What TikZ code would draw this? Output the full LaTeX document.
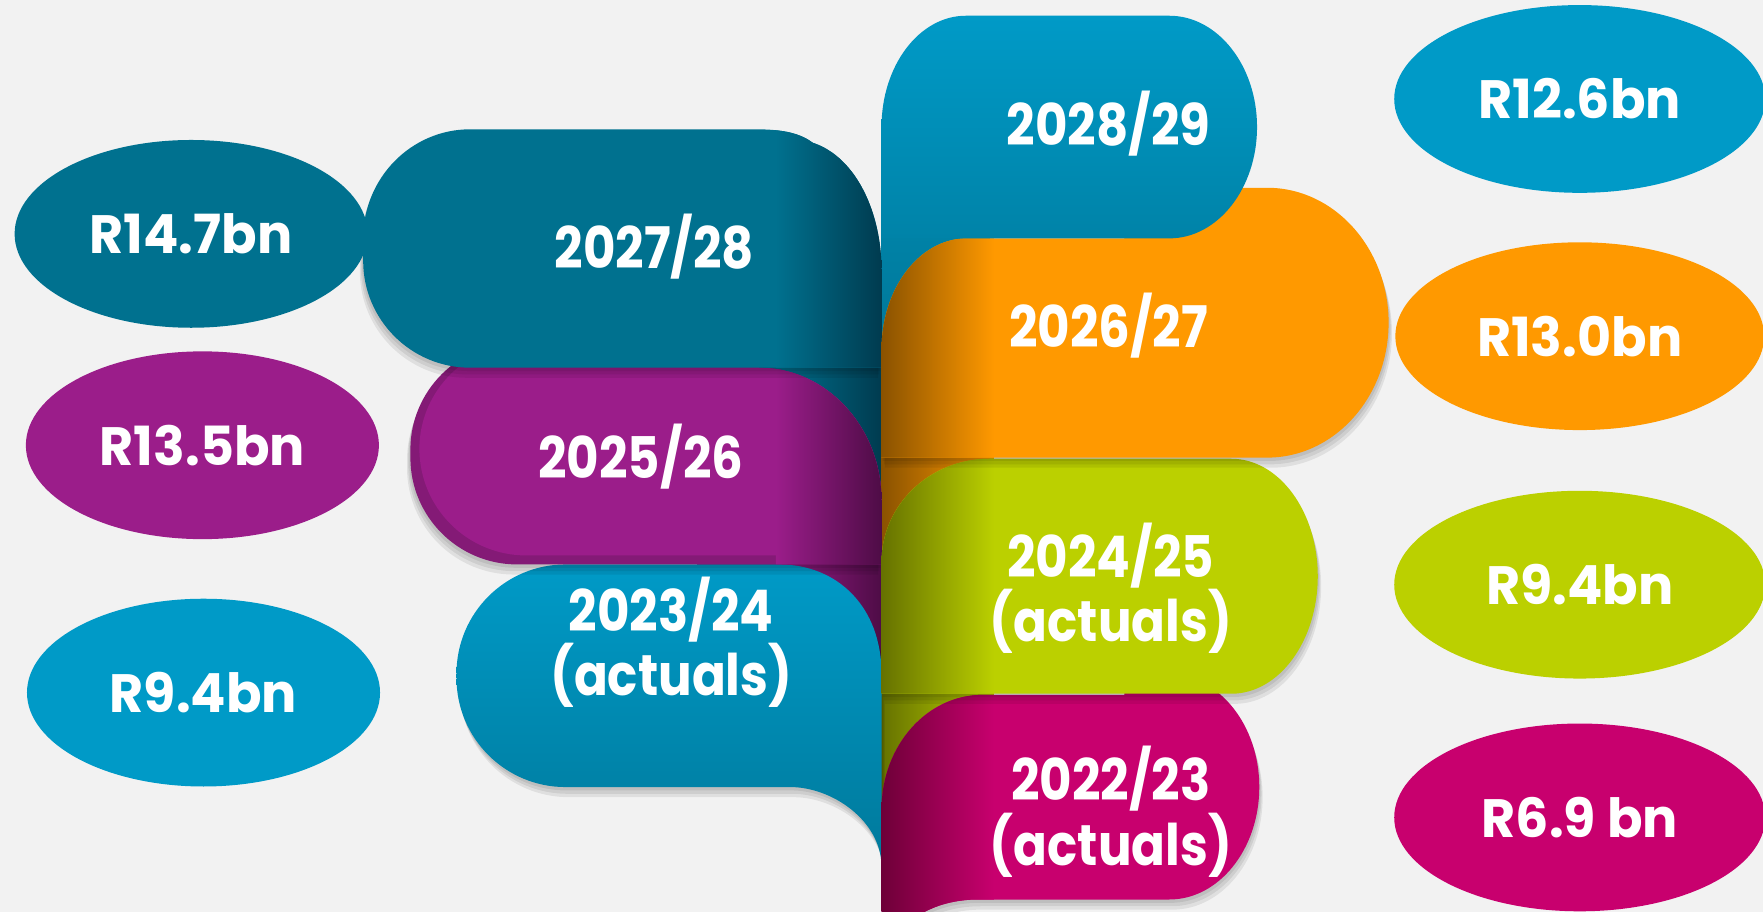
\documentclass[tikz,border=0pt]{standalone}
\usepackage{fontspec}
\setmainfont{Poppins}[FakeStretch=0.87]
\newfontfamily\amountfont{Poppins}[FakeStretch=0.97]
\usetikzlibrary{shapes.geometric}
\definecolor{bg}{HTML}{F2F2F2}
\definecolor{tealbase}{HTML}{00718F}
\definecolor{tealdark}{HTML}{003B4F}
\definecolor{plum}{HTML}{9B1D8A}
\definecolor{plumrim}{HTML}{841A76}
\definecolor{plumdark}{HTML}{4E0C46}
\definecolor{skyblue}{HTML}{009AC7}
\definecolor{skymid}{HTML}{0083A8}
\definecolor{skydeep}{HTML}{007393}
\definecolor{amber}{HTML}{FF9900}
\definecolor{amberdark}{HTML}{8A5200}
\definecolor{leaf}{HTML}{BBD000}
\definecolor{leafdark}{HTML}{667200}
\definecolor{berry}{HTML}{C8006E}
\definecolor{berrydark}{HTML}{6E0038}
\newcommand\pathTealBody{(784,327) -- (418,327) .. controls (365.6,327) and (323,284.4) .. (323,232) -- (323,212) .. controls (323,158.5) and (365.6,115) .. (418,115) -- (672,115) .. controls (698,115) and (712,119) .. (723,127) .. controls (762,140) and (784,190) .. (784,240) -- cycle}
\newcommand\pathPlumBody{(675,327) .. controls (735,327) and (784,380) .. (784,445) -- (784,502) -- (460,502) .. controls (407.6,502) and (365,459.6) .. (365,407) -- (365,400) .. controls (365,347.6) and (407.6,305) .. (460,305) -- (675,305) -- cycle}
\newcommand\pathPlumFace{(675,327) .. controls (735,327) and (784,380) .. (784,445) -- (784,494) -- (468,494) .. controls (415.6,494) and (373,451.6) .. (373,399) .. controls (373,347.6) and (415.6,305) .. (468,305) -- (675,305) -- cycle}
\newcommand\pathSkyLow{(784,599) .. controls (784,540) and (745,502) .. (693,502) -- (503,502) .. controls (449.4,502) and (406,545.4) .. (406,599) -- (406,603) .. controls (406,656.6) and (449.4,700) .. (503,700) -- (703,700) .. controls (740,700) and (784,730) .. (784,771) -- (784,820) -- cycle}
\newcommand\pathSkyHigh{(784,212) -- (784,113) .. controls (784,58.4) and (817.6,14) .. (859,14) -- (1040,14) .. controls (1083,14) and (1118,58.4) .. (1118,113) .. controls (1118,167.6) and (1083,212) .. (1040,212) -- cycle}
\newcommand\pathAmber{(784,407) -- (784,311) .. controls (784,256.4) and (818,212) .. (860,212) -- (1000,212) -- (1000,167) -- (1127,167) .. controls (1186.6,167) and (1235,220.7) .. (1235,287) .. controls (1235,353.3) and (1186.6,407) .. (1127,407) -- cycle}
\newcommand\pathLeaf{(784,617) -- (784,500) .. controls (784,449) and (827,408) .. (880,408) -- (1095,408) .. controls (1137.5,408) and (1172,454.8) .. (1172,512.5) .. controls (1172,570.2) and (1137.5,617) .. (1095,617) -- cycle}
\newcommand\pathBerry{(784,830) -- (784,720) .. controls (784,663.7) and (824,618) .. (874,618) -- (1000,618) -- (1000,600) -- (1040,600) .. controls (1084,600) and (1120,644.8) .. (1120,700) .. controls (1120,755.2) and (1084,800) .. (1040,800) -- (870,800) .. controls (835,800) and (810,815) .. (800,830) -- cycle}
\begin{document}
\begin{tikzpicture}[x=1pt,y=-1pt,
	yearlabel/.style={text=white,align=center,font=\fontsize{51}{56}\selectfont\bfseries},
	amount/.style={ellipse,inner sep=0pt,minimum width=314,minimum height=167,text=white,font=\amountfont\fontsize{48}{48}\selectfont\bfseries},
	softshadow/.style={black,opacity=.075}]
	\useasboundingbox (0,0) rectangle (1568,811);
	\clip (0,0) rectangle (1568,811);
	\fill[bg] (0,0) rectangle (1568,811);
	\fill[tealbase] (620,300) rectangle (700,480);
	\shade[left color=tealbase,right color=tealdark] (690,300) rectangle (784,480);
	\fill[plum] (620,480) rectangle (700,640);
	\shade[left color=plum,right color=plumdark] (690,480) rectangle (784,640);
	\shade[top color=skymid,bottom color=skydeep] (784,200) rectangle (880,350);
	\shade[left color=amberdark,right color=amber] (784,400) rectangle (884,540);
	\shade[left color=leafdark,right color=leaf] (784,610) rectangle (884,740);
	\foreach \d in {3,6,9} \fill[softshadow,shift={(\d/3,\d)}] \pathSkyLow;
	\shade[top color=skyblue,bottom color=skydeep] \pathSkyLow;
	\foreach \d in {3,6,9} \fill[softshadow,shift={(-\d/3,\d)}] \pathPlumBody;
	\fill[plumrim] \pathPlumBody;
	\fill[plum] \pathPlumFace;
	\begin{scope}
		\clip \pathPlumBody;
		\shade[left color=plum,right color=plumdark] (690,300) rectangle (784,510);
	\end{scope}
	\foreach \d in {3,6,9} \fill[softshadow,shift={(-\d/3,\d)}] \pathTealBody;
	\fill[tealbase] \pathTealBody;
	\begin{scope}
		\clip \pathTealBody;
		\shade[left color=tealbase,right color=tealdark] (690,110) rectangle (784,330);
	\end{scope}
	\foreach \d in {3,6,9} \fill[softshadow,shift={(\d/3,\d)}] \pathBerry;
	\fill[berry] \pathBerry;
	\begin{scope}
		\clip \pathBerry;
		\shade[left color=berrydark,right color=berry] (784,590) rectangle (884,840);
	\end{scope}
	\foreach \d in {3,6,9} \fill[softshadow,shift={(\d/3,\d)}] \pathLeaf;
	\fill[leaf] \pathLeaf;
	\begin{scope}
		\clip \pathLeaf;
		\shade[left color=leafdark,right color=leaf] (784,400) rectangle (884,620);
	\end{scope}
	\foreach \d in {3,6,9} \fill[softshadow,shift={(\d/3,\d)}] \pathAmber;
	\fill[amber] \pathAmber;
	\begin{scope}
		\clip \pathAmber;
		\shade[left color=amberdark,right color=amber] (784,160) rectangle (884,420);
	\end{scope}
	\shade[top color=skyblue,bottom color=skymid] \pathSkyHigh;
	\node[yearlabel] (y2728) at (582,219) {2027/28};
	\node[yearlabel] (y2526) at (570,406) {2025/26};
	\node[yearlabel] (y2324) at (597,571) {2023/24\\(actuals)};
	\node[yearlabel] (y2829) at (986,110) {2028/29};
	\node[yearlabel] (y2627) at (986,290) {2026/27};
	\node[yearlabel] (y2425) at (988,523) {2024/25\\(actuals)};
	\node[yearlabel] (y2223) at (988,722) {2022/23\\(actuals)};
	\node[amount,fill=tealbase] (a2728) at (170,208) {R14.7bn};
	\node[amount,fill=plum] (a2526) at (180,396) {R13.5bn};
	\node[amount,fill=skyblue] (a2324) at (181,616) {R9.4bn};
	\node[amount,fill=skyblue,minimum width=330] (a2829) at (1405,88) {R12.6bn};
	\node[amount,fill=amber,minimum width=328] (a2627) at (1405,299) {R13.0bn};
	\node[amount,fill=leaf,minimum width=330] (a2425) at (1405,520) {R9.4bn};
	\node[amount,fill=berry,minimum width=330] (a2223) at (1405,727) {R6.9 bn};
\end{tikzpicture}
\end{document}
